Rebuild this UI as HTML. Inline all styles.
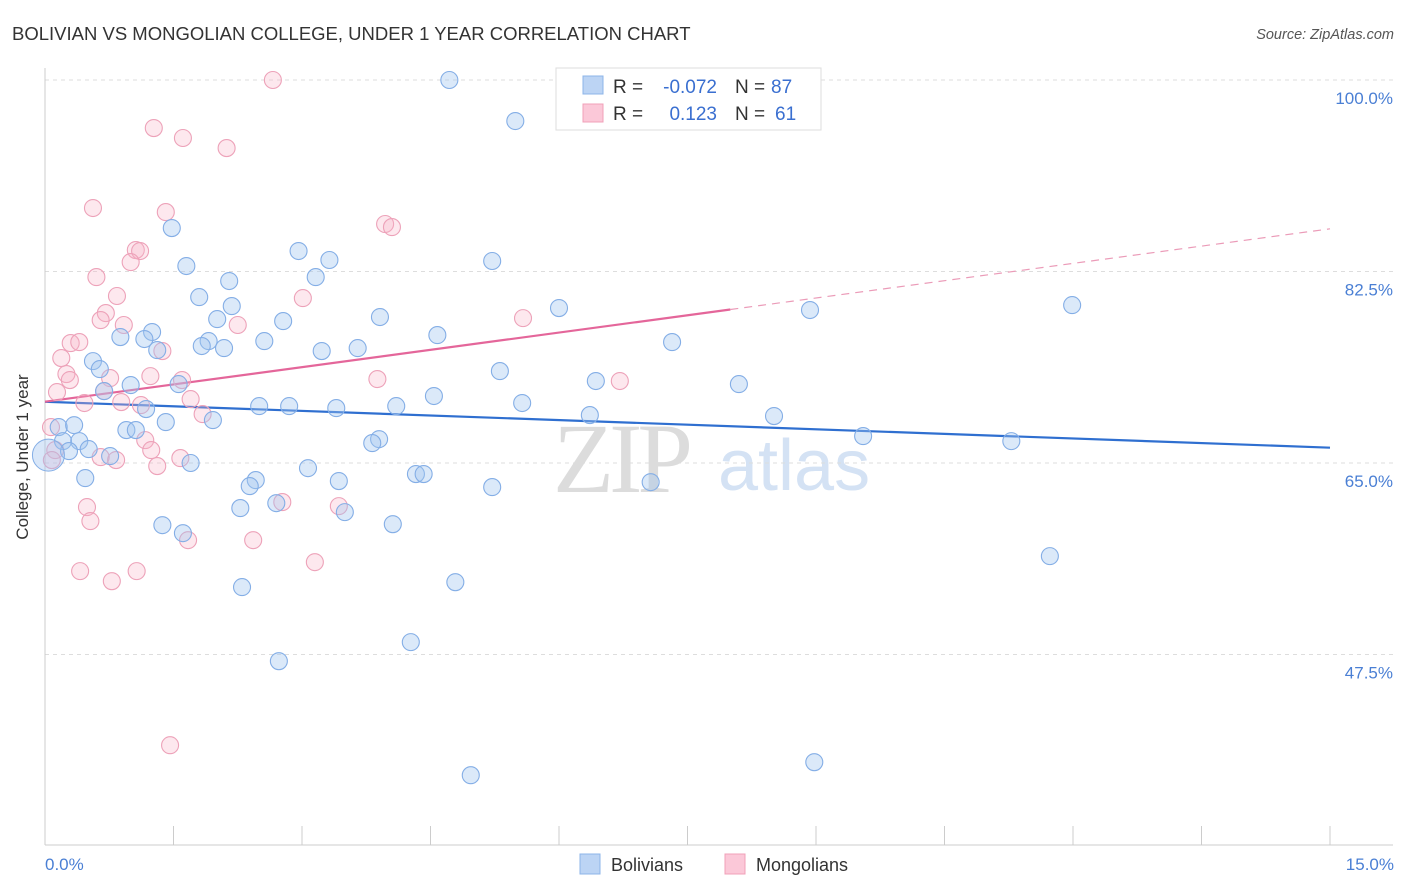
<!DOCTYPE html>
<html><head><meta charset="utf-8">
<style>
body{margin:0;background:#fff;font-family:"Liberation Sans",sans-serif;}
svg{display:block}
</style></head>
<body>
<svg id="chart" width="1406" height="892">
<text x="12" y="40" font-size="18.5" fill="#333">BOLIVIAN VS MONGOLIAN COLLEGE, UNDER 1 YEAR CORRELATION CHART</text>
<text x="1394" y="39" font-size="14.5" fill="#555" font-style="italic" text-anchor="end">Source: ZipAtlas.com</text>
<g>
<text x="553" y="492" font-size="100" fill="#dcdcdc" font-family="Liberation Serif,serif" textLength="140">ZIP</text>
<text x="718" y="490" font-size="72" fill="#d4e2f4">atlas</text>
</g>
<g id="grid"></g>
<g id="axes"></g>
<g id="lines"></g>
<g id="points"></g>
<text x="28" y="457" font-size="17" fill="#333" text-anchor="middle" transform="rotate(-90 28 457)">College, Under 1 year</text>
<text x="45" y="870" font-size="17" fill="#4a7fd4">0.0%</text>
<text x="1394" y="870" font-size="17" fill="#4a7fd4" text-anchor="end">15.0%</text>
<g>
<rect x="556" y="68" width="265" height="62" fill="#fff" stroke="#ddd"/>
<rect x="583" y="76" width="20" height="18" fill="#bcd4f4" stroke="#8db4e8"/>
<rect x="583" y="104" width="20" height="18" fill="#fbc8d8" stroke="#f0a0b8"/>
<g font-size="19">
<text x="613" y="93" fill="#333">R =</text>
<text x="717" y="93" fill="#3a6fd0" text-anchor="end">-0.072</text>
<text x="735" y="93" fill="#333">N =</text>
<text x="771" y="93" fill="#3a6fd0">87</text>
</g>
<g font-size="19">
<text x="613" y="120" fill="#333">R =</text>
<text x="717" y="120" fill="#3a6fd0" text-anchor="end">0.123</text>
<text x="735" y="120" fill="#333">N =</text>
<text x="775" y="120" fill="#3a6fd0">61</text>
</g>
</g>
<g>
<rect x="580" y="854" width="20" height="20" fill="#bcd4f4" stroke="#8db4e8"/>
<text x="611" y="871" font-size="18" fill="#333">Bolivians</text>
<rect x="725" y="854" width="20" height="20" fill="#fbc8d8" stroke="#f0a0b8"/>
<text x="756" y="871" font-size="18" fill="#333">Mongolians</text>
</g>
</svg>
<script>
const yTicks=[100,82.5,65,47.5];
const yTickLabels=["100.0%","82.5%","65.0%","47.5%"];
const xTicks=[0,1.5,3,4.5,6,7.5,9,10.5,12,13.5,15];
const bolX=[4.72,5.49,1.48,2.96,1.65,3.32,5.22,2.15,3.16,1.80,2.18,6.0,8.93,11.99,2.78,2.01,3.91,4.58,1.25,0.88,1.16,1.91,1.83,2.09,2.56,7.32,1.31,3.23,3.65,0.56,0.64,5.31,1.56,1.0,0.69,6.43,8.10,4.54,2.50,2.85,3.40,4.10,5.57,1.18,6.36,8.51,1.96,1.41,0.95,1.06,0.16,0.34,9.55,11.28,3.90,3.82,0.21,0.40,0.51,0.28,0.76,1.70,3.07,0.47,2.46,3.43,2.39,4.33,4.42,5.22,7.07,2.70,2.28,3.50,1.37,4.06,1.61,11.73,2.30,4.79,4.27,2.73,8.98,4.97];
const bolY=[100,96.25,86.47,84.37,83.0,83.55,83.46,81.63,81.99,80.16,79.34,79.16,78.98,79.43,77.97,78.15,78.34,76.69,76.97,76.51,76.33,76.14,75.69,75.50,76.14,76.05,75.32,75.23,75.50,74.31,73.58,73.40,72.21,72.12,71.57,72.49,72.21,71.12,70.20,70.20,70.02,70.20,70.48,69.93,69.38,69.29,68.92,68.74,68.01,68.01,68.28,68.46,67.46,67.0,67.18,66.82,67.0,67.0,66.27,66.09,65.63,65.0,64.53,63.62,63.44,63.35,62.89,63.99,63.99,62.80,63.25,61.33,60.88,60.51,59.32,59.41,58.59,56.49,53.66,54.11,48.63,46.89,37.66,36.47];
const monX=[2.66,1.27,1.61,2.12,0.56,1.41,3.97,4.05,1.06,1.11,1.0,0.60,0.84,3.01,0.71,0.65,0.92,5.58,2.25,0.30,0.40,1.37,0.19,0.25,0.29,1.23,3.88,6.71,1.60,0.76,0.69,0.14,0.46,0.89,1.70,1.12,1.84,0.07,1.17,1.24,0.65,0.83,1.58,1.31,2.77,3.43,0.49,0.53,1.67,2.43,3.15,0.41,1.07,0.78,1.46,0.12,0.08];
const monY=[100,95.61,94.70,93.78,88.30,87.93,86.84,86.56,84.46,84.37,83.36,81.99,80.26,80.07,78.70,78.06,77.61,78.24,77.61,75.96,76.05,75.23,74.59,73.13,72.58,72.94,72.67,72.49,72.58,72.76,71.57,71.48,70.48,70.57,70.84,70.29,69.47,68.28,67.09,66.18,65.54,65.27,65.45,64.72,61.43,61.06,60.97,59.69,57.95,57.95,55.94,55.12,55.12,54.20,39.21,66.18,65.27];
const bolTrend=[70.6,66.4];
const monTrend=[70.6,86.4];
const monSolidEnd=8.0;
const X0=45,X1=1330,Ybase=80;
function sx(v){return X0+(v/15)*(X1-X0);}
function sy(v){return Ybase+(100-v)*(191.5/17.5);}
const NS="http://www.w3.org/2000/svg";
function mk(tag,attrs,parent){const e=document.createElementNS(NS,tag);for(const k in attrs)e.setAttribute(k,attrs[k]);document.getElementById(parent).appendChild(e);return e;}
yTicks.forEach((t,i)=>{
  const l=mk('line',{x1:45,x2:1393,y1:sy(t),y2:sy(t),stroke:'#ddd','stroke-dasharray':'4,4'},'grid');
  
  
  const tx=mk('text',{x:1393,y:sy(t)+24,'font-size':17,fill:'#4a7fd4','text-anchor':'end'},'grid');
  tx.textContent=yTickLabels[i];
  
  
});
const ya=mk('line',{x1:45,x2:45,y1:68,y2:845,stroke:'#ccc'},'axes');


const xa=mk('line',{x1:45,x2:1393,y1:845,y2:845,stroke:'#ccc'},'axes');


xTicks.forEach(t=>{
  const l=mk('line',{x1:sx(t),x2:sx(t),y1:826,y2:845,stroke:'#ccc'},'axes');
  
  
});
function drawPts(xs,ys,fill,stroke,name){
  xs.forEach((x,i)=>{
    const c=mk('circle',{cx:sx(x),cy:sy(ys[i]),r:8.5,fill:fill,stroke:stroke,'stroke-width':1.1},'points');
    
    
  });
}
drawPts(monX,monY,'rgba(248,180,200,0.3)','#eda2b9','mongolian-point');
drawPts(bolX,bolY,'rgba(160,196,240,0.38)','#84aee6','bolivian-point');
const big=mk('circle',{cx:sx(0.04),cy:sy(65.72),r:16,fill:'rgba(160,196,240,0.4)',stroke:'#84aee6'},'points');


const bl=mk('line',{x1:sx(0),y1:sy(bolTrend[0]),x2:sx(15),y2:sy(bolTrend[1]),stroke:'#2f6fd0','stroke-width':2.2},'lines');


const mAt=v=>monTrend[0]+(monTrend[1]-monTrend[0])*v/15;
const ml=mk('line',{x1:sx(0),y1:sy(mAt(0)),x2:sx(monSolidEnd),y2:sy(mAt(monSolidEnd)),stroke:'#e4669a','stroke-width':2.2},'lines');


const md=mk('line',{x1:sx(monSolidEnd),y1:sy(mAt(monSolidEnd)),x2:sx(15),y2:sy(mAt(15)),stroke:'#eb9bb8','stroke-width':1.2,'stroke-dasharray':'8,6'},'lines');


</script>
</body></html>
